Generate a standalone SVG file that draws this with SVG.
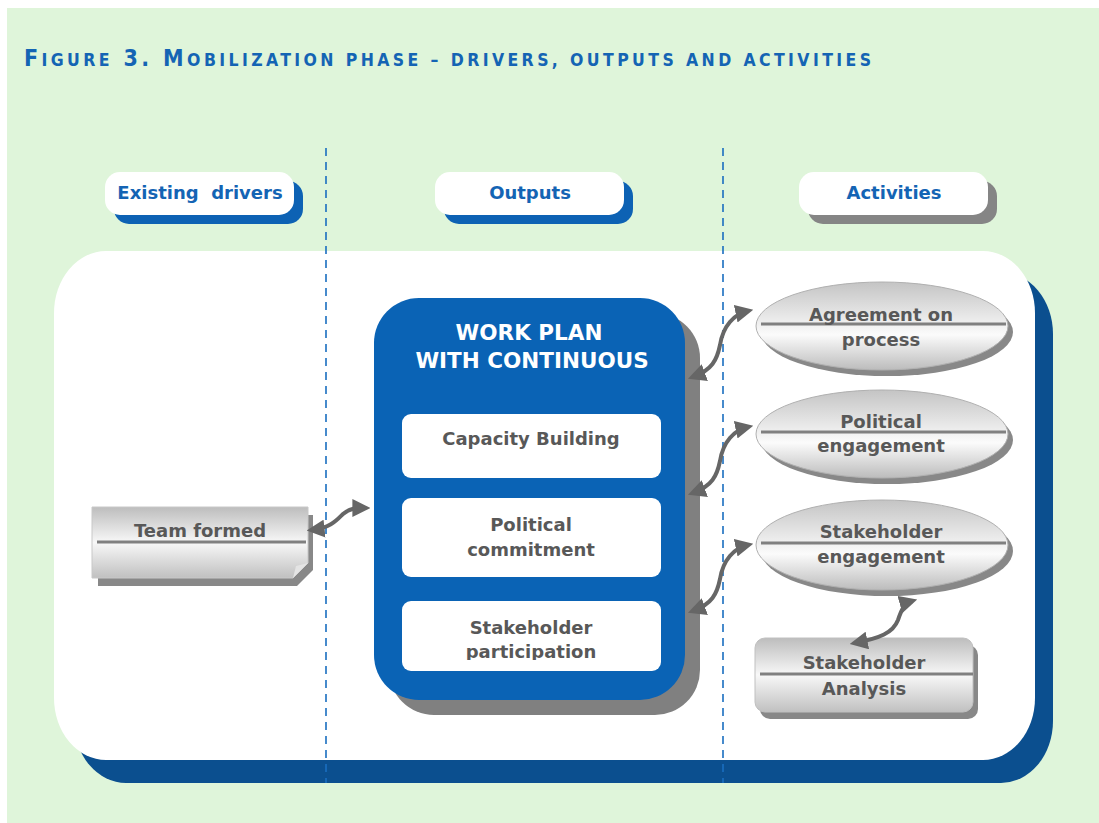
<svg xmlns="http://www.w3.org/2000/svg" width="1099" height="823" viewBox="0 0 1099 823">
  <defs>
    <style>
      .lbl { font-family: "DejaVu Sans", Verdana, sans-serif; font-weight: bold; font-size: 18px; fill: #585858; text-anchor: middle; }
      .hdr { font-family: "DejaVu Sans", Verdana, sans-serif; font-weight: bold; font-size: 18px; fill: #1464b4; text-anchor: middle; }
      .wp { font-family: "DejaVu Sans", Verdana, sans-serif; font-weight: bold; font-size: 21.5px; fill: #ffffff; text-anchor: middle; }
      .title { font-family: "DejaVu Sans Condensed", "DejaVu Sans", sans-serif; font-weight: bold; fill: #1464b4; }
      .sep { stroke: #1a6ec0; stroke-width: 1.6; stroke-dasharray: 8 6; fill: none; }
      .rule { stroke: #808080; stroke-width: 3; }
      .conn { fill: none; stroke: #666666; stroke-width: 4; marker-start: url(#ah); marker-end: url(#ah); }
      .inner { fill: #ffffff; }
    </style>
    <marker id="ah" viewBox="0 0 10 10" refX="7" refY="5" markerWidth="4.5" markerHeight="4.5" orient="auto-start-reverse" markerUnits="strokeWidth">
      <path d="M0 0 L10 5 L0 10 Z" fill="#666666"/>
    </marker>
    <linearGradient id="gEll" x1="0" y1="0" x2="0" y2="1">
      <stop offset="0" stop-color="#c4c4c4"/>
      <stop offset="0.6" stop-color="#fbfbfb"/>
      <stop offset="1" stop-color="#bcbcbc"/>
    </linearGradient>
    <linearGradient id="gBox" x1="0" y1="0" x2="0" y2="1">
      <stop offset="0" stop-color="#bdbdbd"/>
      <stop offset="0.5" stop-color="#f8f8f8"/>
      <stop offset="1" stop-color="#c0c0c0"/>
    </linearGradient>
    <clipPath id="clipSP">
      <rect x="402" y="601" width="259" height="59"/>
    </clipPath>
  </defs>

  <!-- background -->
  <rect x="7" y="8" width="1092" height="815" fill="#dff5da"/>

  <!-- title -->
  <text class="title" x="24" y="66" textLength="847" lengthAdjust="spacing"><tspan font-size="23">F</tspan><tspan font-size="17.5">IGURE</tspan><tspan font-size="23"> 3. M</tspan><tspan font-size="17.5">OBILIZATION PHASE – DRIVERS, OUTPUTS AND ACTIVITIES</tspan></text>

  <!-- main panel -->
  <g id="panel">
    <rect x="74" y="272" width="979" height="511" rx="52" ry="62" fill="#0b4f8f"/>
    <rect x="54" y="251" width="981" height="509" rx="52" ry="62" fill="#ffffff"/>
  </g>

  <!-- column separators -->
  <g id="separators">
    <line class="sep" x1="326" y1="148" x2="326" y2="783"/>
    <line class="sep" x1="723" y1="148" x2="723" y2="783"/>
  </g>

  <!-- headers -->
  <g id="hdr-drivers">
    <rect x="114" y="181" width="189" height="43" rx="15" fill="#0d62b4"/>
    <rect x="105" y="172" width="189" height="43" rx="15" fill="#ffffff"/>
    <text class="hdr" x="200" y="199" xml:space="preserve">Existing  drivers</text>
  </g>
  <g id="hdr-outputs">
    <rect x="444" y="181" width="189" height="43" rx="15" fill="#0d62b4"/>
    <rect x="435" y="172" width="189" height="43" rx="15" fill="#ffffff"/>
    <text class="hdr" x="530" y="199">Outputs</text>
  </g>
  <g id="hdr-activities">
    <rect x="808" y="181" width="189" height="43" rx="15" fill="#858585"/>
    <rect x="799" y="172" width="189" height="43" rx="15" fill="#ffffff"/>
    <text class="hdr" x="894" y="199">Activities</text>
  </g>

  <!-- work plan -->
  <g id="workplan">
    <rect x="389" y="313" width="311" height="402" rx="45" fill="#808080"/>
    <rect x="374" y="298" width="311" height="402" rx="45" fill="#0a63b5"/>
    <text class="wp" x="529" y="340">WORK PLAN</text>
    <text class="wp" x="532" y="368">WITH CONTINUOUS</text>
  </g>
  <g id="capacity">
    <rect class="inner" x="402" y="414" width="259" height="64" rx="9"/>
    <text class="lbl" x="531" y="445">Capacity Building</text>
  </g>
  <g id="political-commitment">
    <rect class="inner" x="402" y="498" width="259" height="79" rx="9"/>
    <text class="lbl" x="531" y="531">Political</text>
    <text class="lbl" x="531" y="556">commitment</text>
  </g>
  <g id="stakeholder-participation">
    <rect class="inner" x="402" y="601" width="259" height="70" rx="9"/>
    <g clip-path="url(#clipSP)">
      <text class="lbl" x="531" y="634">Stakeholder</text>
      <text class="lbl" x="531" y="658">participation</text>
    </g>
  </g>

  <!-- team formed -->
  <g id="team-formed">
    <path d="M98 515 H313 V570 L297 586 H98 Z" fill="#888888"/>
    <path d="M92 507 H308 V563 L293 578 H92 Z" fill="url(#gBox)" stroke="#c8c8c8" stroke-width="1"/>
    <path d="M293 578 L296 566 L308 563 Z" fill="#e4e4e4"/>
    <line class="rule" x1="97" y1="542" x2="306" y2="542"/>
    <text class="lbl" x="200" y="537">Team formed</text>
  </g>

  <!-- activities -->
  <g id="agreement">
    <ellipse cx="887" cy="332" rx="126" ry="44" fill="#888888"/>
    <ellipse cx="882" cy="326" rx="126" ry="44" fill="url(#gEll)" stroke="#b0b0b0" stroke-width="1"/>
    <line class="rule" x1="761" y1="324" x2="1006" y2="324"/>
    <text class="lbl" x="881" y="321">Agreement on</text>
    <text class="lbl" x="881" y="346">process</text>
  </g>
  <g id="political-engagement">
    <ellipse cx="887" cy="440" rx="126" ry="44" fill="#888888"/>
    <ellipse cx="882" cy="434" rx="126" ry="44" fill="url(#gEll)" stroke="#b0b0b0" stroke-width="1"/>
    <line class="rule" x1="761" y1="432" x2="1006" y2="432"/>
    <text class="lbl" x="881" y="428">Political</text>
    <text class="lbl" x="881" y="452">engagement</text>
  </g>
  <g id="stakeholder-engagement">
    <ellipse cx="887" cy="551" rx="126" ry="45" fill="#888888"/>
    <ellipse cx="882" cy="545" rx="126" ry="45" fill="url(#gEll)" stroke="#b0b0b0" stroke-width="1"/>
    <line class="rule" x1="761" y1="543" x2="1006" y2="543"/>
    <text class="lbl" x="881" y="538">Stakeholder</text>
    <text class="lbl" x="881" y="563">engagement</text>
  </g>
  <g id="stakeholder-analysis">
    <rect x="760" y="645" width="218" height="74" rx="10" fill="#888888"/>
    <rect x="755" y="638" width="218" height="74" rx="10" fill="url(#gBox)" stroke="#c0c0c0" stroke-width="1"/>
    <line class="rule" x1="760" y1="674" x2="973" y2="674"/>
    <text class="lbl" x="864" y="669">Stakeholder</text>
    <text class="lbl" x="864" y="695">Analysis</text>
  </g>

  <!-- connectors -->
  <g id="connectors">
    <path class="conn" d="M312 530 C330 528, 336 521, 343 514 C350 508, 356 508, 365 508"/>
    <path class="conn" d="M693 377 C712 370, 717 360, 720 345 C723 326, 734 314, 748 311"/>
    <path class="conn" d="M693 493 C712 486, 717 476, 720 461 C723 442, 734 430, 748 427"/>
    <path class="conn" d="M693 611 C712 604, 717 594, 720 579 C723 560, 734 548, 748 545"/>
    <path class="conn" d="M855 643 C880 638, 893 633, 898 620 C902 608, 905 603, 912 601"/>
  </g>
</svg>
